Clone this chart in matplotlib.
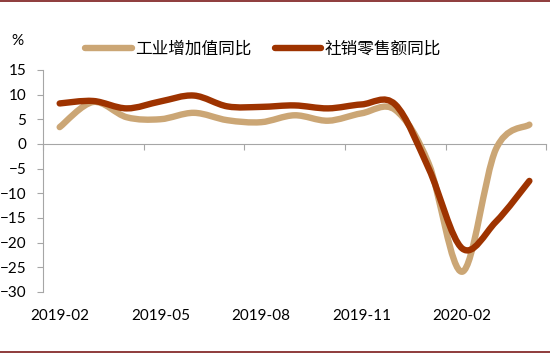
import matplotlib.pyplot as plt
from matplotlib.path import Path
from matplotlib.patches import PathPatch
from matplotlib.lines import Line2D
from matplotlib.transforms import ScaledTranslation

plt.rcParams['font.family'] = ['Lato', 'Noto Sans CJK SC', 'DejaVu Sans']

months = ['2019-02', '2019-03', '2019-04', '2019-05', '2019-06', '2019-07',
          '2019-08', '2019-09', '2019-10', '2019-11', '2019-12', '2020-01',
          '2020-02', '2020-03', '2020-04']
industry = [3.4, 8.5, 5.4, 5.0, 6.3, 4.8, 4.4, 5.8, 4.7, 6.2, 6.9, -4.0,
            -25.9, -1.1, 3.9]
retail = [8.2, 8.7, 7.2, 8.6, 9.8, 7.6, 7.5, 7.8, 7.2, 8.0, 8.0, -5.0,
          -21.2, -15.8, -7.5]
label_idx = [0, 3, 6, 9, 12]
names = ['工业增加值同比', '社销零售额同比']
colors = ['#CBA675', '#9E3300']


def smooth_path(y):
    # catmull-rom curve through the data points, drawn as bezier segments
    x = list(range(len(y)))
    verts = [(x[0], y[0])]
    codes = [Path.MOVETO]
    n = len(y)
    for i in range(n - 1):
        x0, y0 = x[max(i - 1, 0)], y[max(i - 1, 0)]
        x3, y3 = x[min(i + 2, n - 1)], y[min(i + 2, n - 1)]
        c1 = (x[i] + (x[i + 1] - x0) / 6, y[i] + (y[i + 1] - y0) / 6)
        c2 = (x[i + 1] - (x3 - x[i]) / 6, y[i + 1] - (y3 - y[i]) / 6)
        verts += [c1, c2, (x[i + 1], y[i + 1])]
        codes += [Path.CURVE4] * 3
    return Path(verts, codes)


fig = plt.figure(figsize=(5.5, 3.53), dpi=100)
ax = fig.add_axes([0.078, 0.173, 0.915, 0.629])

for series, c in zip([industry, retail], colors):
    ax.add_patch(PathPatch(smooth_path(series), fill=False, edgecolor=c,
                           linewidth=4.6, capstyle='round', joinstyle='round'))

ax.set_xlim(-0.5, len(months) - 0.5)
ax.set_ylim(-30, 15)
ax.set_yticks(range(-30, 16, 5))

for s in ['top', 'right']:
    ax.spines[s].set_visible(False)
ax.spines['left'].set_color('#A6A6A6')
ax.spines['bottom'].set_color('#A6A6A6')
ax.spines['bottom'].set_position(('data', 0))
ax.spines['bottom'].set_zorder(0)

ax.set_xticks([i - 0.5 for i in range(0, len(months) + 1, 3)])
ax.set_xticklabels([])
ax.tick_params(axis='x', direction='out', length=4, color='#A6A6A6')
ax.tick_params(axis='y', direction='out', length=4, color='#A6A6A6',
               labelsize=11, pad=8)

# month labels sit below the plot, not on the zero line
offset = ax.transData + ScaledTranslation(0, -12 / 72, fig.dpi_scale_trans)
for i in label_idx:
    ax.text(i, -30, months[i], transform=offset, ha='center',
            va='top', fontsize=11, color='black')

fig.text(0.02, 0.885, '%', fontsize=11, ha='left', va='center')

handles = [Line2D([0], [0], color=c, linewidth=4.6, solid_capstyle='round')
           for c in colors]
fig.legend(handles, names, loc='center', bbox_to_anchor=(0.478, 0.862),
           ncol=2, frameon=False, fontsize=12, handlelength=2.8,
           handletextpad=0.2, columnspacing=1.4)

fig.add_artist(Line2D([0, 1], [0.997, 0.997], color='#7B1A1A', linewidth=1.2,
                      transform=fig.transFigure))
fig.add_artist(Line2D([0, 1], [0.003, 0.003], color='#7B1A1A', linewidth=1.2,
                      transform=fig.transFigure))

fig.savefig('out.png', dpi=100)
